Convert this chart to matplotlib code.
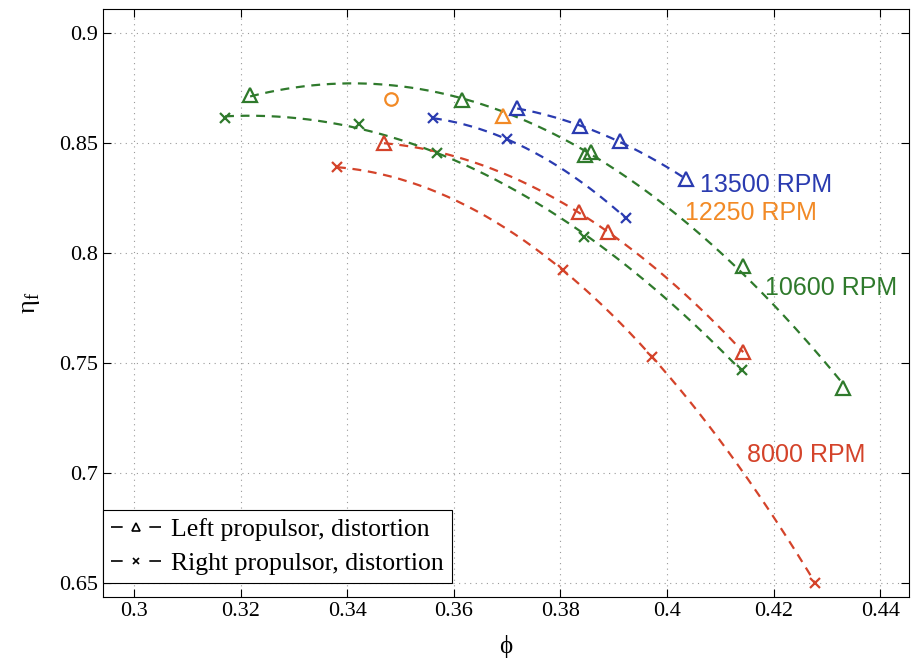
import numpy as np
import matplotlib
matplotlib.use('Agg')
import matplotlib.pyplot as plt
from matplotlib.lines import Line2D

plt.rcParams['font.family'] = ['Liberation Serif', 'DejaVu Serif']
plt.rcParams['mathtext.fontset'] = 'custom'
plt.rcParams['mathtext.rm'] = 'Liberation Serif'

# flow coefficient / fan efficiency, per shaft speed
phi_10600_left = [0.3218, 0.3615, 0.3846, 0.3857, 0.4143, 0.4330]
eta_10600_left = [0.8718, 0.8695, 0.8445, 0.8459, 0.7941, 0.7386]
phi_10600_right = [0.3171, 0.3422, 0.3568, 0.3844, 0.4141]
eta_10600_right = [0.8614, 0.8586, 0.8455, 0.8073, 0.7468]

phi_13500_left = [0.3719, 0.3837, 0.3912, 0.4036]
eta_13500_left = [0.8659, 0.8577, 0.8509, 0.8336]
phi_13500_right = [0.3561, 0.3700, 0.3923]
eta_13500_right = [0.8614, 0.8518, 0.8159]

phi_8000_left = [0.3469, 0.3835, 0.3889, 0.4143]
eta_8000_left = [0.8500, 0.8186, 0.8095, 0.7550]
phi_8000_right = [0.3381, 0.3805, 0.3972, 0.4278]
eta_8000_right = [0.8391, 0.7923, 0.7527, 0.6500]

phi_12250_left = [0.3692]
eta_12250_left = [0.8623]
phi_12250_clean = [0.3482]
eta_12250_clean = [0.8700]

green = '#2f7a2c'
blue = '#2a3bb0'
red = '#d4432a'
orange = '#f28a26'

fig = plt.figure(figsize=(9.17, 6.62), dpi=100)
ax = fig.add_axes([0.1123, 0.0982, 0.879, 0.888])


def fit_curve(phi, eta, color):
    c = np.polyfit(phi, eta, 2)
    xs = np.linspace(min(phi), max(phi), 200)
    ax.plot(xs, np.polyval(c, xs), '--', color=color, lw=1.6, dashes=(4, 3))


series = [
    (phi_10600_left, eta_10600_left, '^', green),
    (phi_10600_right, eta_10600_right, 'x', green),
    (phi_13500_left, eta_13500_left, '^', blue),
    (phi_13500_right, eta_13500_right, 'x', blue),
    (phi_8000_left, eta_8000_left, '^', red),
    (phi_8000_right, eta_8000_right, 'x', red),
]
for phi, eta, m, col in series:
    fit_curve(phi, eta, col)
for phi, eta, m, col in series:
    if m == '^':
        ax.plot(phi, eta, m, ms=10, mfc='none', mec=col, mew=1.6)
    else:
        ax.plot(phi, eta, m, ms=7, color=col, mew=1.6)

ax.plot(phi_12250_left, eta_12250_left, '^', ms=10, mfc='none', mec=orange, mew=1.6)
ax.plot(phi_12250_clean, eta_12250_clean, 'o', ms=9, mfc='none', mec=orange, mew=1.6)

lab_font = dict(family='Liberation Sans', fontsize=18, ha='left', va='center')
ax.text(0.4062, 0.8309, '13500 RPM', color=blue, **lab_font)
ax.text(0.4034, 0.8182, '12250 RPM', color=orange, **lab_font)
ax.text(0.4184, 0.7841, '10600 RPM', color=green, **lab_font)
ax.text(0.4150, 0.7082, '8000 RPM', color=red, **lab_font)

ax.set_xlim(0.2942, 0.4454)
ax.set_ylim(0.6436, 0.911)
ax.set_xticks(np.arange(0.30, 0.4401, 0.02))
ax.set_xticklabels(['0.3', '0.32', '0.34', '0.36', '0.38', '0.4', '0.42', '0.44'])
ax.set_yticks(np.arange(0.65, 0.9001, 0.05))
ax.set_yticklabels(['0.65', '0.7', '0.75', '0.8', '0.85', '0.9'])
ax.tick_params(direction='in', top=True, right=True, labelsize=16, length=6, width=0.8)
ax.grid(True, linestyle=(0, (1, 4)), color='#999999', lw=0.8)
for s in ax.spines.values():
    s.set_linewidth(0.8)

ax.set_xlabel('ϕ', fontsize=18, labelpad=10)
ax.set_ylabel('η$_{\\mathregular{f}}$', fontsize=19, labelpad=12)

handles = [
    Line2D([], [], color='black', ls=(0, (7, 16)), lw=1.2, marker='^', ms=6, mfc='none', mew=1.2),
    Line2D([], [], color='black', ls=(0, (7, 16)), lw=1.2, marker='x', ms=5, mew=1.2),
]
leg = ax.legend(handles, ['Left propulsor, distortion', 'Right propulsor, distortion'],
                loc='lower left', fontsize=18.5, handlelength=2.0, handletextpad=0.35,
                labelspacing=0.45, borderpad=0.3, borderaxespad=0.0, fancybox=False,
                framealpha=1, edgecolor='black',
                bbox_to_anchor=(0.0, 14 / 588), bbox_transform=ax.transAxes)
leg.get_frame().set_linewidth(0.8)

fig.savefig('out.png', dpi=100)
